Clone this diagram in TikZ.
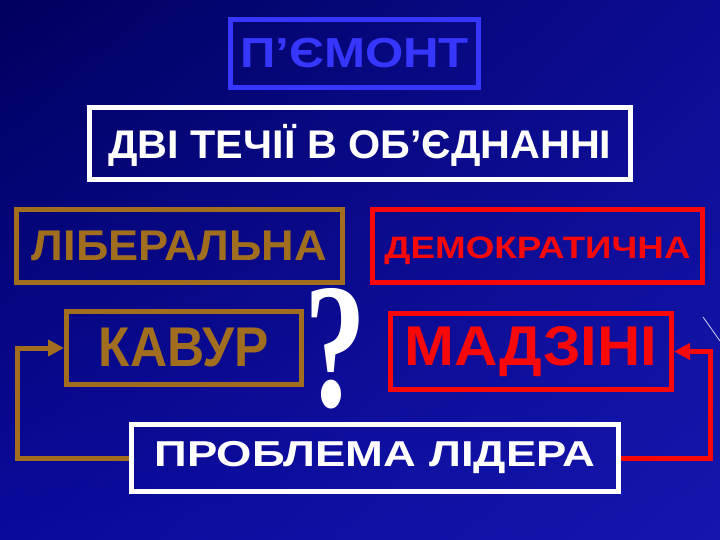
\documentclass[tikz,border=0pt]{standalone}
\usepackage{fontspec}
\setmainfont{Liberation Sans}
\newfontfamily\qfont{Liberation Serif}
\usetikzlibrary{arrows.meta,shadings}
\definecolor{bgA}{HTML}{00005E}
\definecolor{bgB}{HTML}{0C0C92}
\definecolor{bgC}{HTML}{0A0A9C}
\definecolor{bgD}{HTML}{1616AE}
\definecolor{brownc}{HTML}{A06E1E}
\definecolor{redc}{HTML}{F80808}
\definecolor{bluec}{HTML}{3636FF}
\newcommand\fitt[3]{\resizebox{#1}{\height}{\fontsize{#2}{#2}\selectfont\bfseries #3}}
\tikzset{
  box/.style={draw, line width=5pt, inner sep=0pt, align=center},
  link/.style={line width=5pt, -{Triangle[length=16pt,width=16pt]}}
}
\begin{document}
\begin{tikzpicture}[x=1pt,y=-1pt]
\useasboundingbox (0,0) rectangle (720,540);
\shade[upper left=bgA, upper right=bgB, lower left=bgC, lower right=bgD] (0,0) rectangle (720,540);
\draw[white, line width=0.8pt, opacity=0.8] (703,317) -- (720,341);

\node[box, draw=bluec, text=bluec, minimum width=248pt, minimum height=68pt] (pem) at (354.5,53.5) {\fitt{229pt}{42pt}{П’ЄМОНТ}};
\node[box, draw=white, text=white, minimum width=541pt, minimum height=72pt] (dvi) at (360,143.5) {\raisebox{-2pt}[\height][\depth]{\fitt{503pt}{40pt}{ДВІ ТЕЧІЇ В ОБ’ЄДНАННІ}}};
\node[box, draw=brownc, text=brownc, minimum width=326pt, minimum height=73pt] (lib) at (179.5,246) {\fitt{295pt}{43pt}{ЛІБЕРАЛЬНА}};
\node[box, draw=redc, text=redc, minimum width=330pt, minimum height=73pt] (dem) at (537.5,246) {\raisebox{-5pt}[\height][\depth]{\fitt{306pt}{31pt}{ДЕМОКРАТИЧНА}}};
\node[box, draw=brownc, text=brownc, minimum width=235pt, minimum height=73pt] (kav) at (184,348) {\fitt{170pt}{56pt}{КАВУР}};
\node[box, draw=redc, text=redc, minimum width=281pt, minimum height=76pt] (mad) at (531,351.5) {\fitt{253pt}{56pt}{МАДЗІНІ}};
\node[box, draw=white, text=white, minimum width=487pt, minimum height=67pt] (prob) at (375,458) {\fitt{441pt}{36pt}{ПРОБЛЕМА ЛІДЕРА}};
\node[inner sep=0pt, text=white] (q) at (335,349) {\resizebox{62pt}{118pt}{\qfont\bfseries ?}};

\coordinate (lb) at (17,458);
\coordinate (lt) at (17,348);
\coordinate (rb) at (710,458);
\coordinate (rt) at (710,351.5);
\draw[link, brownc] (prob.west) -- (lb) -- (lt) -- (kav.west);
\draw[link, redc] (prob.east) -- (rb) -- (rt) -- (mad.east);
\end{tikzpicture}
\end{document}
